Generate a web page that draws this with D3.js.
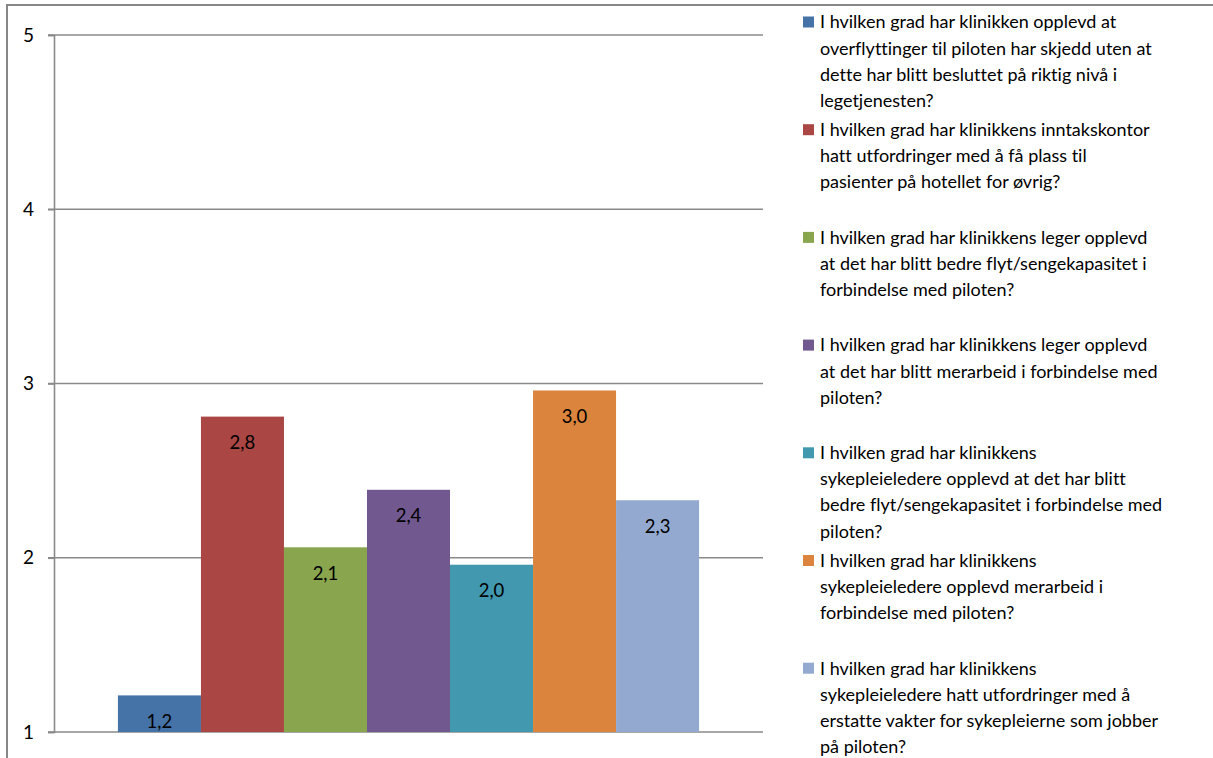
<!DOCTYPE html>
<html>
<head>
<meta charset="utf-8">
<script src="https://cdn.jsdelivr.net/npm/d3@7"></script>
<style>
  html, body { margin: 0; padding: 0; background: #fff; }
  svg { display: block; font-family: Lato, "Open Sans", sans-serif; font-variant-ligatures: none; }
</style>
</head>
<body>
<svg id="chart" width="1213" height="758"></svg>
<script>
// Survey questions (series), one bar each, with wrapped legend lines
const seriesLines = [
  ["I hvilken grad har klinikken opplevd at", "overflyttinger til piloten har skjedd uten at", "dette har blitt besluttet på riktig nivå i", "legetjenesten?"],
  ["I hvilken grad har klinikkens inntakskontor", "hatt utfordringer med å få plass til", "pasienter på hotellet for øvrig?"],
  ["I hvilken grad har klinikkens leger opplevd", "at det har blitt bedre flyt/sengekapasitet i", "forbindelse med piloten?"],
  ["I hvilken grad har klinikkens leger opplevd", "at det har blitt merarbeid i forbindelse med", "piloten?"],
  ["I hvilken grad har klinikkens", "sykepleieledere opplevd at det har blitt", "bedre flyt/sengekapasitet i forbindelse med", "piloten?"],
  ["I hvilken grad har klinikkens", "sykepleieledere opplevd merarbeid i", "forbindelse med piloten?"],
  ["I hvilken grad har klinikkens", "sykepleieledere hatt utfordringer med å", "erstatte vakter for sykepleierne som jobber", "på piloten?"]
];
const seriesNames = seriesLines.map(l => l.join(" "));
const values = [1.21, 2.81, 2.06, 2.39, 1.96, 2.96, 2.33];
const colors = ["#4572A7", "#AA4643", "#89A54E", "#71588F", "#4198AF", "#DB843D", "#93A9CF"];
const yTicks = [1, 2, 3, 4, 5];
const category = "";

const svg = d3.select("#chart");
const plot = { left: 54, right: 763, top: 35, bottom: 732 };
const gridColor = "#8a8a8a";

// chart frame
svg.append("rect")
  .attr("x", 7).attr("y", 5).attr("width", 1400).attr("height", 900)
  .attr("fill", "none").attr("stroke", "#878787").attr("stroke-width", 2);

const y = d3.scaleLinear().domain([1, 5]).range([plot.bottom, plot.top]);
const x0 = d3.scaleBand().domain([category]).range([plot.left, plot.right])
  .paddingInner(0).paddingOuter(0.11);
const x1 = d3.scaleBand().domain(seriesNames).range([0, x0.bandwidth()]);

const locale = d3.formatLocale({ decimal: ",", thousands: " ", grouping: [3], currency: ["", " kr"] });
const fmt = locale.format(".1f");

// gridlines
svg.append("g").selectAll("line").data(yTicks).join("line")
  .attr("x1", plot.left - 6).attr("x2", plot.right)
  .attr("y1", d => y(d)).attr("y2", d => y(d))
  .attr("stroke", gridColor).attr("stroke-width", 1.6);

// y axis
const yAxis = svg.append("g")
  .attr("transform", `translate(${plot.left},0)`)
  .call(d3.axisLeft(y).tickValues(yTicks).tickFormat(d3.format("d")).tickSize(6).tickPadding(14));
yAxis.select(".domain").attr("stroke", gridColor).attr("stroke-width", 1.6);
yAxis.selectAll(".tick line").attr("stroke", gridColor).attr("stroke-width", 1.6);
yAxis.selectAll(".tick text").attr("font-size", 19).attr("fill", "#000")
  .attr("font-family", "Lato, sans-serif");

// bars
const g = svg.append("g").attr("transform", `translate(${x0(category)},0)`);
g.selectAll("rect").data(values).join("rect")
  .attr("x", (d, i) => x1(seriesNames[i]))
  .attr("width", x1.bandwidth())
  .attr("y", d => y(d))
  .attr("height", d => y(1) - y(d))
  .attr("fill", (d, i) => colors[i]);

// value labels
g.selectAll("text").data(values).join("text")
  .attr("x", (d, i) => x1(seriesNames[i]) + x1.bandwidth() / 2)
  .attr("y", d => y(d) + 26)
  .attr("dy", "0.35em")
  .attr("text-anchor", "middle")
  .attr("font-size", 18.5)
  .attr("fill", "#000")
  .text(d => fmt(d));

// legend
const legend = svg.append("g");
const legendTop = 22, legendStep = 107.7, lineH = 26.2;
const items = legend.selectAll("g").data(seriesLines).join("g")
  .attr("transform", (d, i) => `translate(803,${legendTop + i * legendStep})`);
items.append("rect")
  .attr("x", 0).attr("y", -5.5).attr("width", 11).attr("height", 11)
  .attr("fill", (d, i) => colors[i]);
items.append("text")
  .attr("font-size", 18)
  .attr("fill", "#000")
  .selectAll("tspan").data(d => d).join("tspan")
  .attr("x", 17)
  .attr("y", (d, j) => j * lineH)
  .attr("dy", "0.35em")
  .text(d => d);
</script>
</body>
</html>
